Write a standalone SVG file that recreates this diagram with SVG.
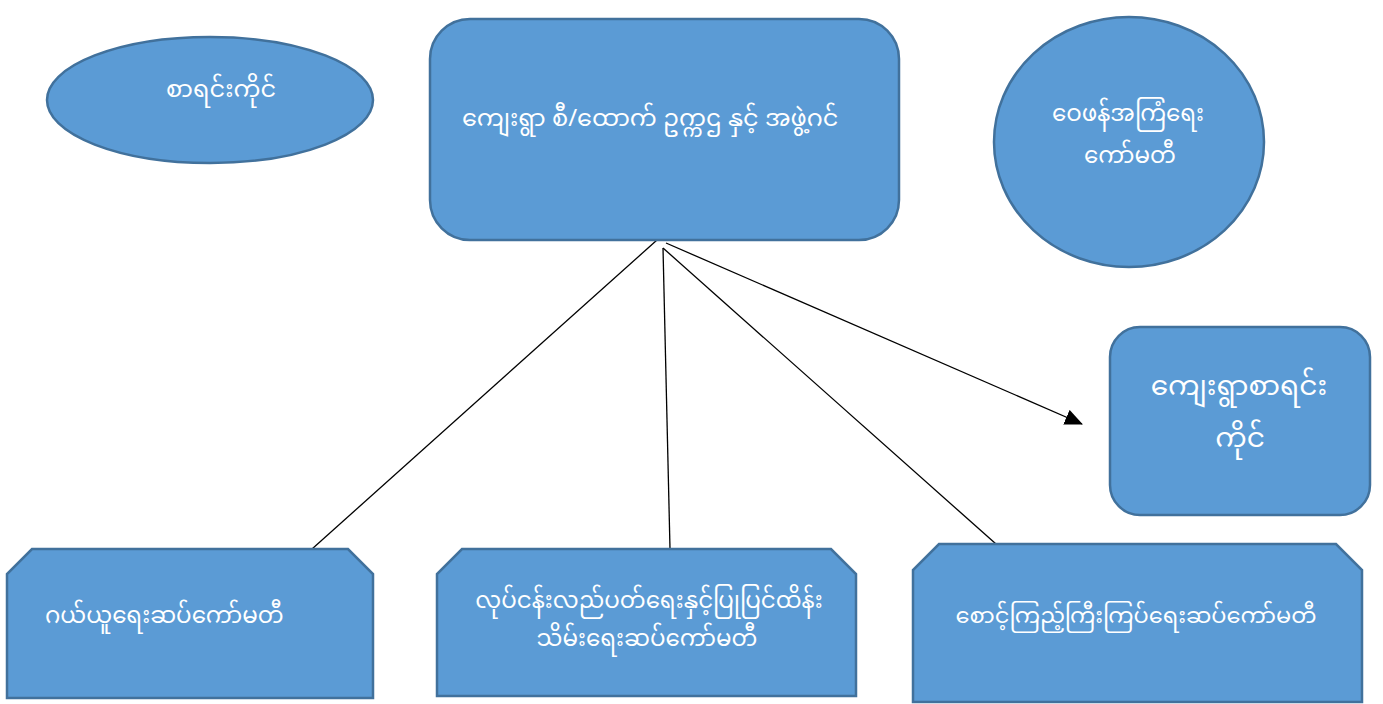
<svg xmlns="http://www.w3.org/2000/svg" width="1383" height="704" viewBox="0 0 1383 704">
<style>
.n{fill:#5B9BD5;stroke:#41719C;stroke-width:2.5}
.t{fill:#fff;font-family:"Noto Sans Myanmar","Myanmar Text","Padauk","Noto Sans",sans-serif;font-size:23px}
.c{stroke:#000;stroke-width:1.3;fill:none}
</style>
<defs>
<marker id="ah" markerWidth="18" markerHeight="16" refX="17" refY="8" orient="auto" markerUnits="userSpaceOnUse" viewBox="0 0 18 16">
<path d="M0,0 L18,8 L0,16 Z" fill="#000"/>
</marker>
</defs>
<g id="connectors">
<line class="c" x1="657" y1="240" x2="312" y2="549"/>
<line class="c" x1="663" y1="248" x2="670" y2="549"/>
<line class="c" x1="663" y1="248" x2="996" y2="544"/>
<line class="c" x1="666" y1="243" x2="1082" y2="424" marker-end="url(#ah)"/>
</g>
<g id="n1">
<ellipse class="n" cx="210" cy="100" rx="163" ry="63"/>
<text class="t" x="221" y="97" text-anchor="middle" style="font-size:24px">စာရင်းကိုင်</text>
</g>
<g id="n2">
<rect class="n" x="430" y="19" width="469" height="221" rx="40"/>
<text class="t" x="462" y="126" style="font-size:24px">ကျေးရွာ စီ/ထောက် ဥက္ကဌ နှင့် အဖွဲ့ဂင်</text>
</g>
<g id="n3">
<ellipse class="n" cx="1129" cy="142" rx="135" ry="125"/>
<text class="t" x="1128" y="121" text-anchor="middle">ဝေဖန်အကြံရေး</text>
<text class="t" x="1130" y="163" text-anchor="middle">ကော်မတီ</text>
</g>
<g id="n4">
<rect class="n" x="1110" y="327" width="260" height="188" rx="30"/>
<text class="t" x="1239" y="395" text-anchor="middle" style="font-size:28px">ကျေးရွာစာရင်း</text>
<text class="t" x="1240" y="447" text-anchor="middle" style="font-size:28px">ကိုင်</text>
</g>
<g id="n5">
<polygon class="n" points="32,549 348,549 373,574 373,698 7,698 7,574"/>
<text class="t" x="45" y="623">ဂယ်ယူရေးဆပ်ကော်မတီ</text>
</g>
<g id="n6">
<polygon class="n" points="462,549 831,549 856,574 856,696 437,696 437,574"/>
<text class="t" x="649" y="608" text-anchor="middle">လုပ်ငန်းလည်ပတ်ရေးနှင့်ပြုပြင်ထိန်း</text>
<text class="t" x="647" y="646" text-anchor="middle">သိမ်းရေးဆပ်ကော်မတီ</text>
</g>
<g id="n7">
<polygon class="n" points="939,544 1336,544 1362,570 1362,702 913,702 913,570"/>
<text class="t" x="1136" y="623" text-anchor="middle" style="font-size:22.5px">စောင့်ကြည့်ကြီးကြပ်ရေးဆပ်ကော်မတီ</text>
</g>
</svg>
